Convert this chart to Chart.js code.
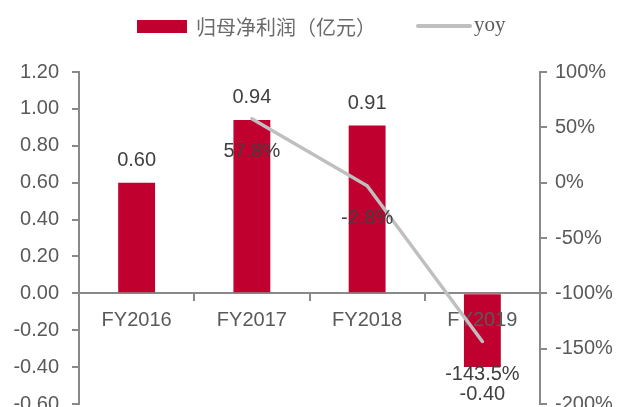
<!DOCTYPE html>
<html>
<head>
<meta charset="utf-8">
<script src="https://cdn.jsdelivr.net/npm/chart.js@4/dist/chart.umd.min.js"></script>
<style>
  html, body { margin: 0; padding: 0; background: #fff; overflow: hidden; }
  #wrap { width: 622px; height: 429px; }
</style>
</head>
<body>
<div id="wrap"><canvas id="profitChart" width="622" height="429"></canvas></div>
<script>
  // 年度
  const years = ['FY2016', 'FY2017', 'FY2018', 'FY2019'];
  // 归母净利润（亿元）
  const netProfit = [0.6, 0.94, 0.91, -0.4];
  // 同比（%）
  const yoy = [null, 57.8, -2.8, -143.5];

  const leftTicks = { min: -0.6, max: 1.2, step: 0.2 };
  const rightTicks = { min: -200, max: 100, step: 50 };

  const RED = '#C0002F';
  const GREY_LINE = '#BFBFBF';
  const AXIS = '#898989';
  const TEXT = '#595959';
  const LABEL = '#404040';
  const FONT = '20px "Liberation Sans", Arial, sans-serif';

  Chart.defaults.font.family = '"Liberation Sans", Arial, sans-serif';
  Chart.defaults.font.size = 20;
  Chart.defaults.color = TEXT;

  // 顶部图例（两种字体，手动绘制）
  const topLegend = {
    id: 'topLegend',
    afterDraw(chart) {
      const ctx = chart.ctx;
      ctx.save();
      ctx.fillStyle = RED;
      ctx.fillRect(137, 20, 50, 13);
      ctx.font = '20px "Noto Sans CJK SC"';
      ctx.fillStyle = '#6a6a6a';
      ctx.textBaseline = 'middle';
      ctx.fillText('归母净利润（亿元）', 196, 27);

      ctx.strokeStyle = GREY_LINE;
      ctx.lineWidth = 4;
      ctx.lineCap = 'round';
      ctx.beginPath();
      ctx.moveTo(418, 26);
      ctx.lineTo(470, 26);
      ctx.stroke();
      ctx.fillStyle = TEXT;
      ctx.font = '21px "Liberation Serif", "Times New Roman", serif';
      ctx.fillText('yoy', 474, 25);
      ctx.restore();
    },
  };

  // 类目标签画在柱子之上、折线之下
  const categoryLabels = {
    id: 'categoryLabels',
    afterDatasetDraw(chart, args) {
      if (args.index !== 0) return;
      const ctx = chart.ctx;
      const xs = chart.scales.x;
      const y0 = chart.scales.y.getPixelForValue(0);
      ctx.save();
      ctx.font = FONT;
      ctx.fillStyle = TEXT;
      ctx.textAlign = 'center';
      ctx.textBaseline = 'middle';
      years.forEach((name, i) => {
        ctx.fillText(name, xs.getPixelForValue(i), y0 + 27);
      });
      ctx.restore();
    },
  };

  // 数据标签
  const valueLabels = {
    id: 'valueLabels',
    afterDatasetsDraw(chart) {
      const ctx = chart.ctx;
      ctx.save();
      ctx.font = FONT;
      ctx.fillStyle = LABEL;
      ctx.textAlign = 'center';
      ctx.textBaseline = 'middle';

      const bars = chart.getDatasetMeta(0).data;
      bars.forEach((bar, i) => {
        const v = netProfit[i];
        const y = v >= 0 ? bar.y - 22 : bar.y + 27;
        ctx.fillText(v.toFixed(2), bar.x, y);
      });

      const pts = chart.getDatasetMeta(1).data;
      pts.forEach((pt, i) => {
        const v = yoy[i];
        if (v === null) return;
        ctx.fillText(v.toFixed(1) + '%', pt.x, pt.y + 33);
      });
      ctx.restore();
    },
  };

  new Chart(document.getElementById('profitChart'), {
    data: {
      labels: years,
      datasets: [
        {
          type: 'bar',
          label: '归母净利润（亿元）',
          data: netProfit,
          backgroundColor: RED,
          borderWidth: 0,
          barPercentage: 0.32,
          categoryPercentage: 1,
          yAxisID: 'y',
          order: 2,
        },
        {
          type: 'line',
          label: 'yoy',
          data: yoy,
          borderColor: GREY_LINE,
          borderWidth: 3.5,
          borderCapStyle: 'round',
          pointRadius: 0,
          tension: 0,
          spanGaps: false,
          yAxisID: 'y1',
          order: 1,
        },
      ],
    },
    options: {
      responsive: false,
      animation: false,
      layout: { padding: { top: 72, bottom: 19, left: 0, right: 0 } },
      plugins: {
        legend: { display: false },
        tooltip: { enabled: false },
      },
      scales: {
        x: {
          position: { y: 0 },
          grid: {
            offset: true,
            drawOnChartArea: false,
            tickLength: 7,
            color: AXIS,
            lineWidth: 2,
          },
          border: { display: true, color: AXIS, width: 2 },
          ticks: { padding: 8, color: 'rgba(0,0,0,0)' },
        },
        y: {
          position: 'left',
          min: leftTicks.min,
          max: leftTicks.max,
          ticks: {
            stepSize: leftTicks.step,
            padding: 13,
            color: TEXT,
            callback: (v) => v.toFixed(2),
          },
          grid: {
            drawOnChartArea: false,
            tickLength: 7,
            color: AXIS,
            lineWidth: 2,
          },
          border: { display: true, color: AXIS, width: 2 },
          afterFit(scale) { scale.width = 79; },
        },
        y1: {
          position: 'right',
          min: rightTicks.min,
          max: rightTicks.max,
          ticks: {
            stepSize: rightTicks.step,
            padding: 8,
            color: TEXT,
            callback: (v) => v + '%',
          },
          grid: {
            drawOnChartArea: false,
            tickLength: 7,
            color: AXIS,
            lineWidth: 2,
          },
          border: { display: true, color: AXIS, width: 2 },
          afterFit(scale) { scale.width = 82; },
        },
      },
    },
    plugins: [categoryLabels, valueLabels, topLegend],
  });
</script>
</body>
</html>
